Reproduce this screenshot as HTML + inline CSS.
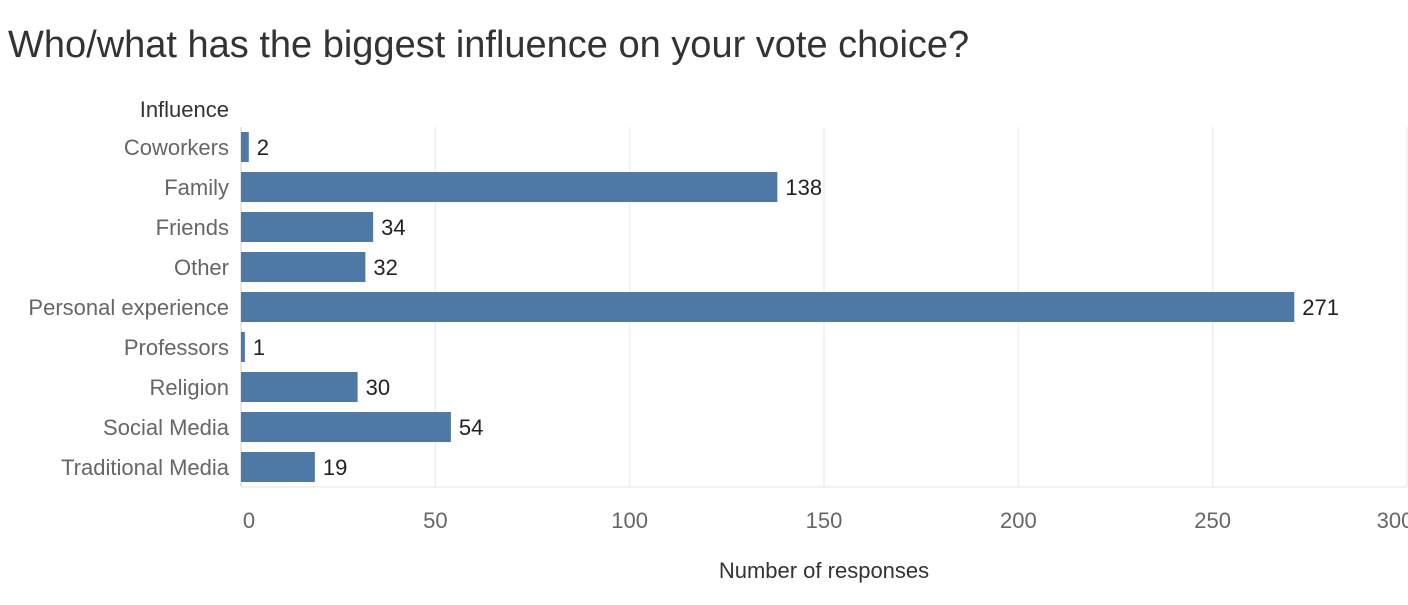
<!DOCTYPE html>
<html><head><meta charset="utf-8"><style>
body{margin:0;background:#fff;width:1408px;height:600px;overflow:hidden;font-family:"Liberation Sans",sans-serif;}
</style></head><body>
<svg width="1408" height="600" xmlns="http://www.w3.org/2000/svg">
<text x="8" y="57" font-size="38" fill="#333" font-family="Liberation Sans, sans-serif">Who/what has the biggest influence on your vote choice?</text>
<text x="229" y="117" font-size="22" fill="#333" text-anchor="end">Influence</text>
<g id="grid"></g><g id="bars"></g><g id="ylabels"></g><g id="xticks"></g>
<text x="824" y="578" font-size="22" fill="#333" text-anchor="middle">Number of responses</text>
</svg>
<script>
const categories=["Coworkers","Family","Friends","Other","Personal experience","Professors","Religion","Social Media","Traditional Media"];
const values=[2,138,34,32,271,1,30,54,19];
const xTicks=[0,50,100,150,200,250,300];
const NS="http://www.w3.org/2000/svg";
const x0=241,x1=1407,xmax=300,plotTop=127,rowH=40;
const xs=v=>x0+(v/xmax)*(x1-x0);
const ys=i=>plotTop+i*rowH;
function mk(t,a,p){const e=document.createElementNS(NS,t);for(const k in a)e.setAttribute(k,a[k]);p.appendChild(e);return e;}
const g=document.getElementById('grid'),b=document.getElementById('bars'),yl=document.getElementById('ylabels'),xt=document.getElementById('xticks');
xTicks.forEach(t=>{
 const l=mk('line',{x1:xs(t),x2:xs(t),y1:plotTop,y2:plotTop+categories.length*rowH,stroke:t===0?'#ddd':'#eee','stroke-width':1.5},g);
 
 
 const tx=mk('text',{x:xs(t)+(t===0?8:t===300?-12:0),y:528,'font-size':22,fill:'#666','text-anchor':'middle'},xt);
 tx.textContent=t;
 
 
});
const bl=mk('line',{x1:x0,x2:x1,y1:plotTop+categories.length*rowH,y2:plotTop+categories.length*rowH,stroke:'#eee','stroke-width':1.5},g);


categories.forEach((c,i)=>{
 const y=ys(i);
 const r=mk('rect',{x:x0,y:y+5,width:Math.max(xs(values[i])-x0,2),height:30,fill:'#4e79a7'},b);
 
 
 const v=mk('text',{x:Math.max(xs(values[i]),x0+2)+8,y:y+28,'font-size':22,fill:'#222'},b);
 v.textContent=values[i];
 
 
 const t=mk('text',{x:229,y:y+28,'font-size':22,fill:'#666','text-anchor':'end'},yl);
 t.textContent=c;
 
 
});
</script>
</body></html>
